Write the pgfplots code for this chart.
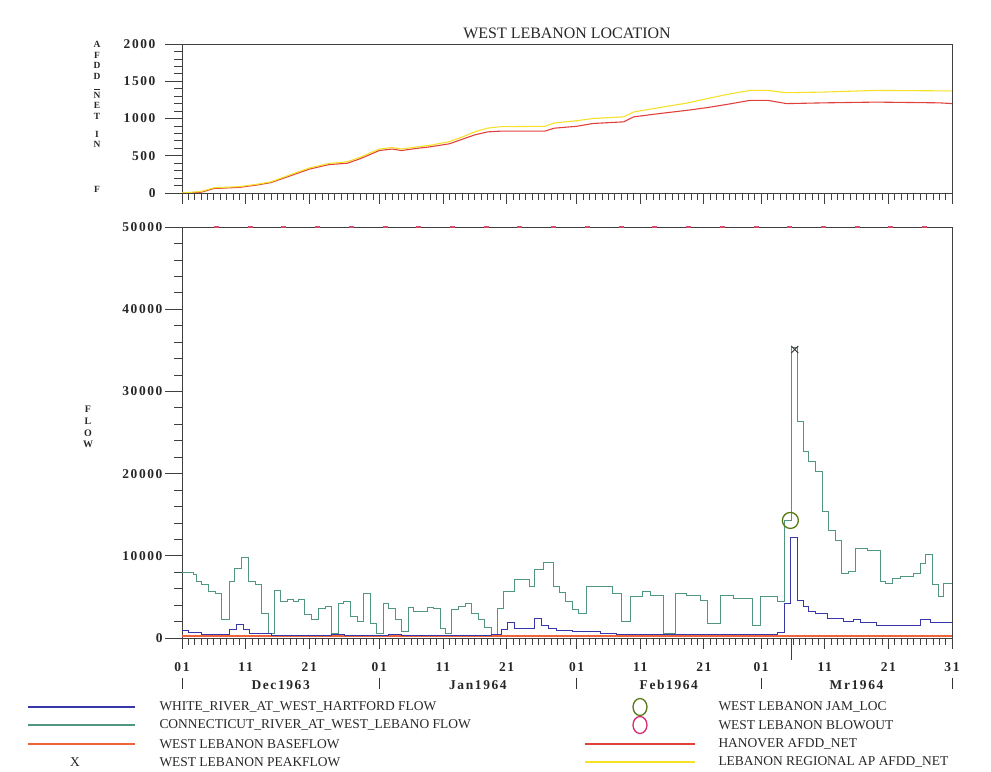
\documentclass[border=0pt]{standalone}
\usepackage{fontspec}
\setmainfont{Liberation Serif}
\newfontfamily\tickfont[LetterSpace=12]{Liberation Serif}
\usepackage{pgfplots}
\pgfplotsset{compat=1.18}
\definecolor{cblue}{RGB}{55,55,170}
\definecolor{cgreen}{RGB}{80,150,130}
\definecolor{corange}{RGB}{240,100,60}
\definecolor{cred}{RGB}{225,65,60}
\definecolor{cyellow}{RGB}{245,225,40}
\definecolor{colive}{RGB}{85,120,20}
\definecolor{cmag}{RGB}{215,40,110}
\definecolor{cpink}{RGB}{216,74,106}
\newcommand{\tf}{\tickfont\bfseries\fontsize{13.5}{13.5}\selectfont}
\newcommand{\lf}{\fontsize{13.5}{14}\selectfont}
\newcommand{\yf}{\tickfont\bfseries\fontsize{9.5}{10.6}\selectfont}
\newcommand{\yff}{\tickfont\bfseries\fontsize{10}{11.7}\selectfont}

\pgfplotstableread{
x y
0 0
3 10
5 60
9 75
12 110
14 140
17 230
20 320
23 380
26 400
28 460
31 570
33 590
34.5 570
37 600
39 620
42 660
44 720
46 780
48 820
50 830
57 830
58.5 870
62 895
64.6 933
69.4 955
71 1022
75 1066
79.4 1110
82.5 1146
85.7 1190
89.3 1244
92 1244
95 1200
101 1210
109 1220
119 1210
121 1200
}\hanover

\pgfplotstableread{
x y
0 0
3 20
5 70
9 85
12 120
14 150
17 245
20 335
23 395
26 420
28 480
31 590
33 610
34.5 590
37 620
39 640
42 690
44 750
46 820
48 870
50 890
57 895
58.5 940
62 970
64.6 1000
69.4 1022
71 1088
75 1146
79.4 1208
82.5 1266
85.7 1324
89.3 1377
92 1377
95 1346
101 1355
109 1377
121 1370
}\lebanon

\pgfplotstableread{
x y
0 8000
1.8 7700
2.3 6850
3.1 6450
4.1 5640
5.2 5440
6.2 2220
7.5 6850
8.3 8460
9.4 9750
10.4 6850
11.5 6450
12.5 3020
13.6 600
14.6 5760
15.4 4430
16.5 4630
17.5 4430
18.3 4630
19.3 2820
20.4 2220
21.4 3630
22.5 3830
23.5 600
24.6 4230
25.4 4430
26.4 2620
27.5 2015
28.5 5440
29.6 1810
30.6 600
31.7 4150
32.4 3630
33.5 2220
34.5 800
35.6 3750
36.4 3220
38.5 3750
39.5 3630
40.6 1210
41.4 600
42.4 3430
43.4 3830
44.5 4230
45.5 3020
46.6 2220
47.6 1330
48.7 400
49.5 3610
50.5 5630
52.3 7140
54.6 6240
55.4 8360
56.8 9160
58.3 6250
59.3 5500
60.3 4460
61.3 3440
62.3 3000
63.6 6250
67.6 5430
69.1 2000
70.4 5030
72.3 5640
73.6 5230
75.7 570
77.5 5430
79.3 5230
81.4 4620
82.5 1780
84.6 5230
86.7 4830
89.6 1580
90.9 5030
93.5 4420
94.6 14300
95.8 35400
96.7 26300
97.7 22700
98.5 21500
99.5 20200
100.6 15400
101.6 13100
102.7 11900
103.7 7870
104.8 8070
105.8 10900
107.7 10700
109.7 6850
110.5 6650
111.6 7260
112.9 7540
115.0 7870
116.0 9080
116.8 10100
117.9 6450
118.9 5030
119.7 6650
121 6650
}\connect

\pgfplotstableread{
x y
0 890
1 725
3 400
7.5 1090
8.5 1610
9.6 1090
10.6 600
14 320
23.5 450
25.5 320
32.5 400
34.5 320
48.7 400
50.2 1060
51.2 1860
52.3 1180
55.4 2350
56.5 1460
57.6 1180
58.9 970
61.4 770
65.7 570
68.3 450
93.5 650
94.6 4140
95.6 12250
96.7 4620
97.7 3890
98.5 3200
99.5 3000
101.4 2400
104 2000
105.5 2190
106.6 1860
109.2 1580
116 2270
117.6 1860
121 1860
}\white

\pgfplotstableread{
x y
0 300
121 300
}\baseflow

\pgfplotstableread{
x y
5.4 50000
10.7 50000
16.0 50000
21.3 50000
26.6 50000
31.9 50000
37.2 50000
42.5 50000
47.8 50000
53.1 50000
58.4 50000
63.7 50000
69.0 50000
74.3 50000
79.6 50000
84.9 50000
90.2 50000
95.5 50000
100.8 50000
106.1 50000
111.4 50000
116.7 50000
}\blowout

\pgfplotsset{
  common/.style={
    scale only axis, anchor=south west,
    xmin=0, xmax=121,
    tick align=outside,
    xtick pos=bottom, ytick pos=left,
    major tick length=17bp, minor tick length=8bp,
    x tick style={/pgfplots/major tick length=11bp,/pgfplots/minor tick length=7bp},
    xtick={0,10,20,31,41,51,62,72,82,91,101,111,121},
    minor xtick={0,...,121},
    axis line style={black!75, line width=0.8bp},
    tick style={black!75, line width=0.7bp},
    yticklabel style={font=\tf, text=black!85},
    xticklabel style={font=\tf, text=black!85},
    /pgf/number format/1000 sep={},
    /pgf/number format/assume math mode=true,
    scaled y ticks=false,
  }
}

\begin{document}
\begin{tikzpicture}
\useasboundingbox (0,0) rectangle (991bp,772bp);

\begin{axis}[common, at={(182bp,579bp)}, width=770bp, height=149bp,
  ymin=0, ymax=2000, ytick={0,500,...,2000}, minor y tick num=4,
  yticklabel style={xshift=-6bp},
  xticklabels={}]
\addplot[cred, line width=1.1bp] table {\hanover};
\addplot[cyellow, line width=1.1bp] table {\lebanon};
\end{axis}

\begin{axis}[common, at={(182bp,134bp)}, width=770bp, height=411bp,
  ymin=0, ymax=50000, ytick={0,10000,...,50000}, minor y tick num=4,
  yticklabel style={xshift=1bp},
  xticklabels={01,11,21,01,11,21,01,11,21,01,11,21,31},
  xticklabel style={yshift=-4bp},
  clip=false]
\addplot[corange, line width=2bp] table {\baseflow};
\addplot[cgreen, line width=1bp, const plot] table {\connect};
\addplot[cblue, line width=1bp, const plot] table {\white};
\addplot[only marks, mark=-, mark size=2.5bp, mark options={cpink, line width=1.2bp}] table {\blowout};
\addplot[only marks, mark=o, mark size=8bp, mark options={colive, line width=1.3bp}] coordinates {(95.6,14300)};
\addplot[only marks, mark=x, mark size=5bp, mark options={black!80, line width=0.9bp}] coordinates {(96.3,35100)};
\draw[black!75, line width=0.7bp] (axis cs:95.8,0) -- ([yshift=-22bp]axis cs:95.8,0);
\pgfplotsinvokeforeach{0,31,62,91,121}{
  \draw[black!80, line width=0.7bp] ([yshift=-40bp]axis cs:#1,0) -- ([yshift=-51bp]axis cs:#1,0);
}
\node[font=\tf, text=black!85] at ([yshift=-47bp]axis cs:15.5,0) {Dec1963};
\node[font=\tf, text=black!85] at ([yshift=-47bp]axis cs:46.5,0) {Jan1964};
\node[font=\tf, text=black!85] at ([yshift=-47bp]axis cs:76.5,0) {Feb1964};
\node[font=\tf, text=black!85] at ([yshift=-47bp]axis cs:106,0) {Mr1964};
\end{axis}

\begin{scope}[x=1bp,y=1bp]
\node[font=\fontsize{16}{16}\selectfont, text=black!85] at (567,739) {WEST LEBANON LOCATION};
% stacked y label of the top axis: AFDD_NET IN F
\node[font=\yf, text=black!85, inner sep=0pt, align=center, anchor=north] at (97,772-41) {A\\F\\D\\D};
\node[font=\yf, text=black!85, inner sep=0pt, align=center, anchor=north] at (97,772-92) {N\\E\\T};
\draw[black!85, line width=0.8bp] (94,772-89) -- (100,772-89);
\node[font=\yf, text=black!85, inner sep=0pt, align=center, anchor=north] at (97,772-131) {I\\N};
\node[font=\yf, text=black!85, inner sep=0pt, anchor=north] at (97,772-186) {F};
% stacked y label of the bottom axis
\node[font=\yff, text=black!85, inner sep=0pt, align=center, anchor=north] at (88,772-406) {F\\L\\O\\W};
% legend
\draw[cblue, line width=1.1bp] (28,65) -- (135,65);
\draw[cgreen, line width=1.3bp] (28,47) -- (135,47);
\draw[corange, line width=1.5bp] (28,28) -- (135,28);
\node[font=\lf, text=black!85] at (75,10) {X};
\node[anchor=west, font=\lf, text=black!85] at (156,65) {WHITE\_RIVER\_AT\_WEST\_HARTFORD FLOW};
\node[anchor=west, font=\lf, text=black!85] at (156,47) {CONNECTICUT\_RIVER\_AT\_WEST\_LEBANO FLOW};
\node[anchor=west, font=\lf, text=black!85] at (156,28) {WEST LEBANON BASEFLOW};
\node[anchor=west, font=\lf, text=black!85] at (156,10) {WEST LEBANON PEAKFLOW};
\draw[colive, line width=1.3bp] (640,65) ellipse (7 and 8.5);
\draw[cmag, line width=1.3bp] (640,47) ellipse (7 and 8.5);
\draw[cred, line width=1.3bp] (585,28) -- (695,28);
\draw[cyellow, line width=1.3bp] (585,10) -- (695,10);
\node[anchor=west, font=\lf, text=black!85] at (715,65) {WEST LEBANON JAM\_LOC};
\node[anchor=west, font=\lf, text=black!85] at (715,47) {WEST LEBANON BLOWOUT};
\node[anchor=west, font=\lf, text=black!85] at (715,28) {HANOVER AFDD\_NET};
\node[anchor=west, font=\lf, text=black!85] at (715,10) {LEBANON REGIONAL AP AFDD\_NET};
\end{scope}
\end{tikzpicture}
\end{document}
